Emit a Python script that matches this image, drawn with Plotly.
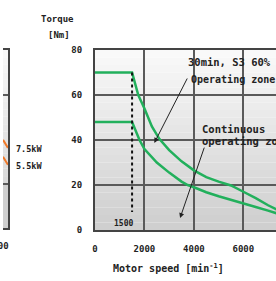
import plotly.graph_objects as go

# ---- data ----
speed_s3 = [0, 1500, 1750, 2000, 2300, 2600, 3000, 3500, 4000, 4500, 5000, 5500, 6000, 6500, 7000, 7400]
torque_s3 = [70, 70, 60, 54, 46, 40.5, 35.5, 30.5, 26.5, 23.5, 21.5, 19.8, 17, 14.2, 11, 8.8]
speed_cont = [0, 1500, 1800, 2000, 2500, 3000, 3500, 3750, 4000, 4500, 5000, 5500, 6000, 6500, 7000, 7400]
torque_cont = [48, 48, 40, 36, 30, 25.5, 21.5, 20, 19, 16.8, 15, 13.5, 12, 10.2, 8.6, 7.2]
base_speed = [1500, 1500]
base_torque = [70, 8]
x_ticks = [0, 2000, 4000, 6000]
y_ticks = [0, 20, 40, 60, 80]

# partial left chart (power lines)
left_speed = [7800, 8000]
power_75 = [9.9, 9.0]
power_55 = [8.0, 7.1]
left_grid = [5, 15]

W, H = 276, 281
ML, MR, MT, MB = 0, 0, 50, 51
PW, PH = W - ML - MR, H - MT - MB
x0px = 93
font = "DejaVu Sans Mono"
txt = "#222222"
green = "#22b05c"
orange = "#f07a2a"
gridc = "#5a5a5a"

fig = go.Figure()
fig.add_trace(go.Scatter(x=speed_s3, y=torque_s3, mode="lines",
                         line=dict(color=green, width=2.5), xaxis="x", yaxis="y"))
fig.add_trace(go.Scatter(x=speed_cont, y=torque_cont, mode="lines",
                         line=dict(color=green, width=2.5), xaxis="x", yaxis="y"))
fig.add_trace(go.Scatter(x=base_speed, y=base_torque, mode="lines",
                         line=dict(color="#111111", width=2, dash="dot"), xaxis="x", yaxis="y"))
fig.add_trace(go.Scatter(x=left_speed, y=power_75, mode="lines",
                         line=dict(color=orange, width=2), xaxis="x2", yaxis="y2"))
fig.add_trace(go.Scatter(x=left_speed, y=power_55, mode="lines",
                         line=dict(color=orange, width=2), xaxis="x2", yaxis="y2"))

shapes = []
N = 24
for i in range(N):
    t = i / (N - 1)
    c = int(249 - t * 42)
    col = f"rgb({c},{c},{c})"
    for xr, yr in (("x domain", "y domain"), ("x2 domain", "y2 domain")):
        shapes.append(dict(type="rect", xref=xr, yref=yr, x0=0, x1=1,
                           y0=1 - (i + 1) / N, y1=1 - i / N,
                           fillcolor=col, line=dict(width=0), layer="below"))
shapes.append(dict(type="rect", xref="x2 domain", yref="y2", x0=0, x1=1, y0=0, y1=5,
                   fillcolor="#cfcfcf", line=dict(width=0), layer="below"))

ann = [
    dict(text="Torque", xref="paper", yref="paper", x=55 / PW, y=(230 - 19) / PH),
    dict(text="[Nm]", xref="paper", yref="paper", x=57 / PW, y=(230 - 35) / PH),
    dict(text="Motor speed [min<sup>-1</sup>]", xref="paper", yref="paper",
         x=167 / PW, y=(230 - 268) / PH, font=dict(size=10)),
    dict(text="30min, S3 60%", xref="x", yref="y", x=3700, y=74.7, xanchor="left",
         font=dict(size=10.5)),
    dict(text="Operating zone", xref="x", yref="y", x=3820, y=67.1, xanchor="left",
         font=dict(size=10)),
    dict(text="Continuous", xref="x", yref="y", x=4260, y=44.9, xanchor="left",
         font=dict(size=10.5)),
    dict(text="operating zone", xref="x", yref="y", x=4260, y=39.6, xanchor="left",
         font=dict(size=10.5)),
    dict(text="1500", xref="x", yref="y", x=1150, y=3.0, font=dict(size=8)),
    dict(text="7.5kW", xref="paper", yref="paper", x=11 / PW, y=(230 - 149) / PH,
         xanchor="left", font=dict(size=8.5)),
    dict(text="5.5kW", xref="paper", yref="paper", x=11 / PW, y=(230 - 166) / PH,
         xanchor="left", font=dict(size=8.5)),
    dict(text="8000", xref="paper", yref="paper", x=8 / PW, y=(230 - 246) / PH,
         xanchor="right", font=dict(size=9)),
]
for a in ann:
    a.setdefault("showarrow", False)
    a.setdefault("xanchor", "center")
    a.setdefault("yanchor", "middle")
    f = a.setdefault("font", {})
    f.setdefault("size", 9)
    f["family"] = font
    f["color"] = txt
    f["weight"] = "bold"

arrow_common = dict(text="", showarrow=True, arrowhead=2, arrowsize=1, arrowwidth=1,
                    arrowcolor="#222222", xref="x", yref="y", axref="x", ayref="y")
ann.append(dict(x=2400, y=38.7, ax=3760, ay=68, **arrow_common))
ann.append(dict(x=3440, y=5.3, ax=4440, ay=37.3, **arrow_common))

tickfont = dict(family=font, size=9, color=txt, weight="bold")
fig.update_layout(
    width=W, height=H, autosize=False,
    margin=dict(l=ML, r=MR, t=MT, b=MB, pad=0),
    paper_bgcolor="white", plot_bgcolor="rgba(0,0,0,0)",
    showlegend=False,
    shapes=shapes, annotations=ann,
    xaxis=dict(domain=[x0px / PW, 1], range=[0, 7320], tickvals=x_ticks,
               showgrid=True, gridcolor=gridc, gridwidth=1.5, zeroline=False,
               showline=True, mirror=True, linecolor="#444444", linewidth=2,
               ticks="outside", ticklen=9, tickcolor="rgba(0,0,0,0)",
               tickfont=tickfont, anchor="y"),
    yaxis=dict(domain=[0, 1], range=[0, 80], tickvals=y_ticks,
               showgrid=True, gridcolor=gridc, gridwidth=1.5, zeroline=False,
               showline=True, linecolor="#444444", linewidth=2,
               ticks="outside", ticklen=9, tickcolor="rgba(0,0,0,0)",
               tickfont=tickfont, anchor="x"),
    xaxis2=dict(domain=[0, 5 / PW], range=left_speed, showticklabels=False,
                showgrid=False, zeroline=False, showline=True, mirror=True,
                linecolor="#444444", linewidth=2, anchor="y2"),
    yaxis2=dict(domain=[2 / PH, 1], range=[0, 20], tickvals=left_grid,
                showticklabels=False, showgrid=True, gridcolor=gridc, gridwidth=1.5,
                zeroline=False, showline=True, side="right",
                linecolor="#444444", linewidth=2, anchor="x2"),
)

fig.write_html("out.html", config={"displayModeBar": False},
               post_script="document.body.style.margin='0px';document.body.style.overflow='hidden';")
